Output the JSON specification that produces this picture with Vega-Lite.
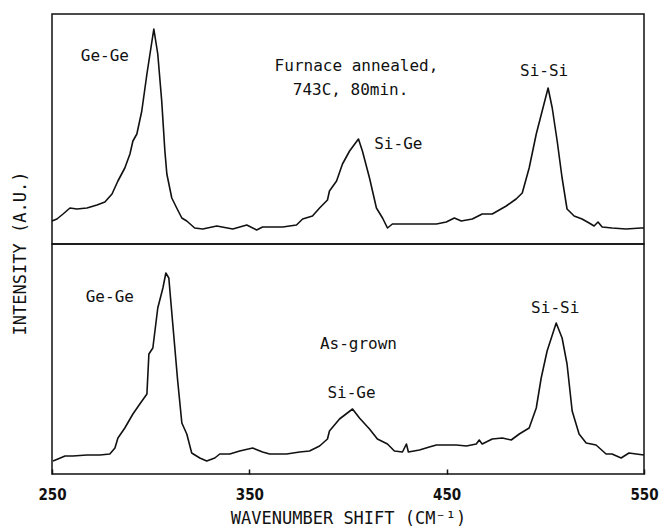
{
  "$schema": "https://vega.github.io/schema/vega-lite/v6.json",
  "padding": {"left": 10, "top": 13, "right": 1, "bottom": 0},
  "spacing": 0,
  "bounds": "flush",
  "background": "white",
  "config": {
    "view": {"stroke": "#111", "strokeWidth": 1.5},
    "concat": {"spacing": 0}
  },
  "datasets": {
    "annealed": [
      {"w":250,"i":23},{"w":252.5,"i":25},{"w":255.6,"i":30},{"w":259.1,"i":36},{"w":262.6,"i":35},{"w":267.7,"i":36},{"w":272.8,"i":39},{"w":276.8,"i":42},{"w":280.4,"i":50},{"w":283.4,"i":63},{"w":286.9,"i":76},{"w":289.5,"i":90},{"w":291,"i":103},{"w":293,"i":110},{"w":295.5,"i":133},{"w":298.1,"i":170},{"w":301.6,"i":215},{"w":303.6,"i":190},{"w":305.6,"i":143},{"w":307.2,"i":93},{"w":308.2,"i":70},{"w":310.7,"i":46},{"w":313.2,"i":36},{"w":315.8,"i":26},{"w":318.3,"i":23},{"w":322.3,"i":16},{"w":326.4,"i":15},{"w":333.5,"i":18},{"w":341.6,"i":15},{"w":348.7,"i":19},{"w":353.7,"i":14},{"w":356.7,"i":17},{"w":366.9,"i":17},{"w":373.9,"i":19},{"w":377,"i":25},{"w":382,"i":28},{"w":385.6,"i":36},{"w":389.6,"i":44},{"w":390.6,"i":53},{"w":394.2,"i":63},{"w":397.2,"i":80},{"w":400.8,"i":93},{"w":405.3,"i":105},{"w":407.3,"i":93},{"w":410.9,"i":66},{"w":414.4,"i":36},{"w":417.5,"i":26},{"w":420,"i":16},{"w":422.5,"i":20},{"w":426.1,"i":20},{"w":434.7,"i":20},{"w":444.8,"i":20},{"w":449.8,"i":22},{"w":453.9,"i":26},{"w":457.4,"i":23},{"w":463,"i":25},{"w":468,"i":30},{"w":473.1,"i":30},{"w":480.2,"i":38},{"w":485.2,"i":45},{"w":488.3,"i":51},{"w":491.8,"i":76},{"w":495.4,"i":110},{"w":498.4,"i":133},{"w":501.4,"i":156},{"w":503.5,"i":136},{"w":506,"i":103},{"w":508.5,"i":66},{"w":511,"i":35},{"w":514.6,"i":28},{"w":518.6,"i":25},{"w":522.2,"i":21},{"w":524.7,"i":18},{"w":526.7,"i":22},{"w":528.8,"i":17},{"w":533.8,"i":16},{"w":540.9,"i":15},{"w":548.5,"i":16},{"w":550,"i":16}
    ],
    "asgrown": [
      {"w":250.5,"i":13},{"w":253,"i":15},{"w":256.6,"i":18},{"w":260.6,"i":18},{"w":267.7,"i":19},{"w":274.3,"i":19},{"w":279.3,"i":20},{"w":281.9,"i":26},{"w":283.4,"i":36},{"w":286.9,"i":46},{"w":291,"i":60},{"w":294.5,"i":70},{"w":298.1,"i":80},{"w":299.1,"i":120},{"w":301.1,"i":126},{"w":303.6,"i":166},{"w":306.2,"i":186},{"w":307.7,"i":201},{"w":309.2,"i":196},{"w":311.2,"i":150},{"w":313.7,"i":93},{"w":315.8,"i":51},{"w":318.3,"i":40},{"w":320.8,"i":21},{"w":324.9,"i":16},{"w":328.4,"i":13},{"w":332.5,"i":16},{"w":335,"i":20},{"w":340.1,"i":20},{"w":345.1,"i":23},{"w":351.7,"i":26},{"w":356.7,"i":22},{"w":360.3,"i":20},{"w":368.9,"i":20},{"w":375.5,"i":22},{"w":380.5,"i":23},{"w":385.6,"i":28},{"w":389.6,"i":35},{"w":390.6,"i":43},{"w":395.7,"i":55},{"w":402.3,"i":65},{"w":405.8,"i":56},{"w":410.9,"i":45},{"w":414.9,"i":35},{"w":420,"i":30},{"w":423.5,"i":23},{"w":427.6,"i":22},{"w":429.6,"i":30},{"w":430.6,"i":22},{"w":436.2,"i":24},{"w":441.2,"i":27},{"w":444.8,"i":29},{"w":454.9,"i":29},{"w":460,"i":28},{"w":465,"i":30},{"w":466.5,"i":34},{"w":468,"i":30},{"w":473.1,"i":35},{"w":478.2,"i":36},{"w":482.7,"i":34},{"w":486.8,"i":40},{"w":491.8,"i":46},{"w":495.4,"i":66},{"w":497.9,"i":96},{"w":500.9,"i":123},{"w":505.5,"i":151},{"w":508.5,"i":136},{"w":511,"i":110},{"w":513.6,"i":63},{"w":517.1,"i":40},{"w":520.7,"i":31},{"w":525.7,"i":29},{"w":530.8,"i":20},{"w":533.8,"i":20},{"w":538.4,"i":16},{"w":542.4,"i":21},{"w":546,"i":20},{"w":550,"i":19}
    ],
    "annealedLabels": [
      {"w":276.8,"i":188,"t":"Ge-Ge"},
      {"w":404.3,"i":178,"t":"Furnace annealed,"},
      {"w":401.3,"i":154,"t":"743C, 80min."},
      {"w":425.5,"i":100,"t":"Si-Ge"},
      {"w":499.4,"i":173,"t":"Si-Si"}
    ],
    "asgrownLabels": [
      {"w":279.3,"i":177,"t":"Ge-Ge"},
      {"w":405.3,"i":130,"t":"As-grown"},
      {"w":401.8,"i":81,"t":"Si-Ge"},
      {"w":505,"i":166,"t":"Si-Si"}
    ]
  },
  "vconcat": [
    {
      "width": 592,
      "height": 230,
      "encoding": {
        "x": {"field": "w", "type": "quantitative", "scale": {"domain": [250, 550], "nice": false, "zero": false}, "axis": null},
        "y": {"field": "i", "type": "quantitative", "scale": {"domain": [0, 230], "nice": false},
              "axis": {"title": "INTENSITY (A.U.)", "labels": false, "ticks": false, "domain": false, "grid": false,
                       "titleX": -32, "titleY": 239, "titleAngle": -90, "titleBaseline": "middle", "titleAlign": "center",
                       "titleFont": "DejaVu Sans Mono", "titleFontSize": 17, "titleFontWeight": "normal", "titleColor": "#111"}}
      },
      "layer": [
        {"data": {"name": "annealed"}, "mark": {"type": "line", "color": "#111", "strokeWidth": 1.6, "strokeJoin": "round"}},
        {"data": {"name": "annealedLabels"}, "mark": {"type": "text", "font": "DejaVu Sans Mono", "fontSize": 16, "color": "#111", "align": "center", "baseline": "middle"},
         "encoding": {"text": {"field": "t"}}}
      ]
    },
    {
      "width": 592,
      "height": 230,
      "encoding": {
        "x": {"field": "w", "type": "quantitative", "scale": {"domain": [250, 550], "nice": false, "zero": false},
              "axis": {"title": "WAVENUMBER SHIFT (CM⁻¹)", "values": [250, 350, 450, 550], "grid": false, "domain": false,
                       "tickSize": -5, "tickColor": "#111", "tickWidth": 1.5, "labelFlush": false,
                       "labelFont": "Liberation Sans Narrow, DejaVu Sans Condensed, Liberation Sans", "labelFontSize": 15, "labelFontWeight": "bold", "labelColor": "#111",
                       "labelPadding": 18, "titleFont": "DejaVu Sans Mono", "titleFontSize": 17, "titleFontWeight": "normal", "titleColor": "#111", "titlePadding": 8}},
        "y": {"field": "i", "type": "quantitative", "scale": {"domain": [0, 230], "nice": false}, "axis": null}
      },
      "layer": [
        {"data": {"name": "asgrown"}, "mark": {"type": "line", "color": "#111", "strokeWidth": 1.6, "strokeJoin": "round"}},
        {"data": {"name": "asgrownLabels"}, "mark": {"type": "text", "font": "DejaVu Sans Mono", "fontSize": 16, "color": "#111", "align": "center", "baseline": "middle"},
         "encoding": {"text": {"field": "t"}}}
      ]
    }
  ]
}
